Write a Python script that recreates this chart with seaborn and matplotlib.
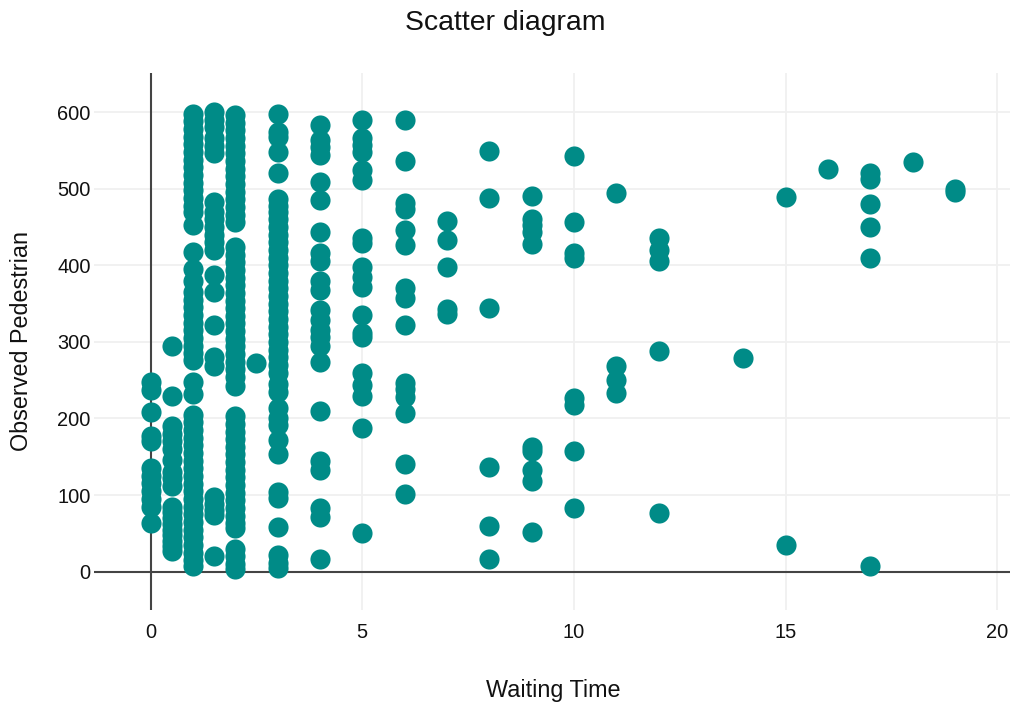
import pandas as pd
import numpy as np
import seaborn as sns
import matplotlib.pyplot as plt

# observed pedestrians for each waiting time
ped_w0 = [248, 237, 209, 177, 170, 135, 125, 116, 105, 95, 85, 64]
ped_w05 = [294, 229, 190, 180, 170, 160, 146, 130, 122, 112, 85, 78, 70, 62, 55, 48, 40, 33, 27]
ped_w1 = [598, 588, 578, 568, 558, 548, 538, 528, 518, 508, 498, 488, 478, 470, 452, 417, 395, 380,
          365, 355, 345, 335, 325, 315, 305, 295, 285, 276, 248, 232, 205, 195, 185, 175, 165, 155,
          145, 135, 125, 115, 105, 95, 85, 75, 65, 55, 45, 35, 25, 15, 7]
ped_w15 = [600, 590, 581, 566, 556, 546, 483, 470, 460, 450, 440, 430, 420, 387, 365, 322, 280, 268,
           97, 88, 80, 74, 20]
ped_w2 = [596, 586, 576, 566, 556, 546, 536, 526, 516, 506, 496, 486, 476, 466, 456, 424, 414, 404,
          394, 384, 374, 364, 354, 344, 334, 324, 314, 304, 294, 284, 274, 264, 254, 242, 203, 193,
          183, 173, 163, 153, 143, 133, 123, 113, 103, 93, 83, 73, 63, 57, 30, 20, 10, 4]
ped_w25 = [272]
ped_w3 = [597, 574, 568, 548, 521, 487, 478, 470, 460, 450, 440, 430, 420, 410, 400, 390, 380, 370,
          360, 350, 340, 330, 320, 310, 300, 290, 280, 270, 259, 245, 235, 214, 200, 192, 172, 153,
          104, 96, 59, 22, 12, 5]
ped_w4 = [583, 563, 555, 544, 509, 485, 443, 416, 405, 379, 368, 342, 329, 316, 307, 294, 274, 210,
          144, 133, 83, 72, 17]
ped_w5 = [589, 566, 557, 548, 524, 511, 435, 429, 398, 385, 372, 335, 312, 307, 259, 244, 229, 187, 50]
ped_w6 = [589, 536, 481, 474, 446, 427, 370, 357, 322, 246, 238, 228, 207, 140, 102]
ped_w7 = [458, 433, 398, 343, 336]
ped_w8 = [549, 488, 344, 137, 60, 16]
ped_w9 = [490, 461, 453, 444, 428, 163, 157, 133, 118, 52]
ped_w10 = [543, 456, 416, 410, 227, 218, 158, 83]
ped_w11 = [495, 268, 250, 233]
ped_w12 = [435, 420, 405, 288, 77]
ped_w14 = [279]
ped_w15b = [489, 35]
ped_w16 = [526]
ped_w17 = [520, 513, 480, 450, 409, 7]
ped_w18 = [535]
ped_w19 = [500, 496]

wait_times = [0, 0.5, 1, 1.5, 2, 2.5, 3, 4, 5, 6, 7, 8, 9, 10, 11, 12, 14, 15, 16, 17, 18, 19]
ped_lists = [ped_w0, ped_w05, ped_w1, ped_w15, ped_w2, ped_w25, ped_w3, ped_w4, ped_w5, ped_w6,
             ped_w7, ped_w8, ped_w9, ped_w10, ped_w11, ped_w12, ped_w14, ped_w15b, ped_w16,
             ped_w17, ped_w18, ped_w19]

rows = []
for w, peds in zip(wait_times, ped_lists):
    for p in peds:
        rows.append((w, p))
df = pd.DataFrame(rows, columns=['wait', 'pedestrian'])

sns.set_theme(style="white")
plt.rcParams['font.family'] = ['Liberation Sans', 'DejaVu Sans']
txt = '#111111'

fig = plt.figure(figsize=(10.1, 7.04), dpi=100)
ax = fig.add_axes([93.5 / 1010, 1 - 610 / 704, (1010 - 93.5) / 1010, (610 - 73) / 704])

# light plotly-like grid, dark zero lines
for v in [100, 200, 300, 400, 500, 600]:
    ax.axhline(v, color='#f0f0f0', lw=1.3, zorder=0)
for v in [5, 10, 15, 20]:
    ax.axvline(v, color='#f0f0f0', lw=1.3, zorder=0)
ax.axhline(0, color='#444444', lw=1.5, zorder=1)
ax.axvline(0, color='#444444', lw=1.5, zorder=1)

sns.scatterplot(data=df, x='wait', y='pedestrian', ax=ax, color='#008b87',
                s=210, linewidth=0, alpha=1, zorder=3)

ax.set_xlim(-1.35, 20.3)
ax.set_ylim(-50, 651)
ax.set_xticks([0, 5, 10, 15, 20])
ax.set_yticks([0, 100, 200, 300, 400, 500, 600])
ax.grid(False)
for s in ax.spines.values():
    s.set_visible(False)
ax.tick_params(axis='both', length=0, labelsize=14.4, colors=txt)
ax.tick_params(axis='y', pad=2)
ax.tick_params(axis='x', pad=9)
ax.set_xlabel('')
ax.set_ylabel('')

fig.text(0.5, 1 - 23 / 704, 'Scatter diagram', ha='center', va='center', fontsize=20.4, color=txt)
fig.text(553 / 1010, 1 - 690 / 704, 'Waiting Time', ha='center', va='center', fontsize=16.8, color=txt)
fig.text(22 / 1010, 1 - 341 / 704, 'Observed Pedestrian', ha='center', va='center',
         rotation=90, fontsize=16.8, color=txt)

plt.savefig('out.png', dpi=100)
